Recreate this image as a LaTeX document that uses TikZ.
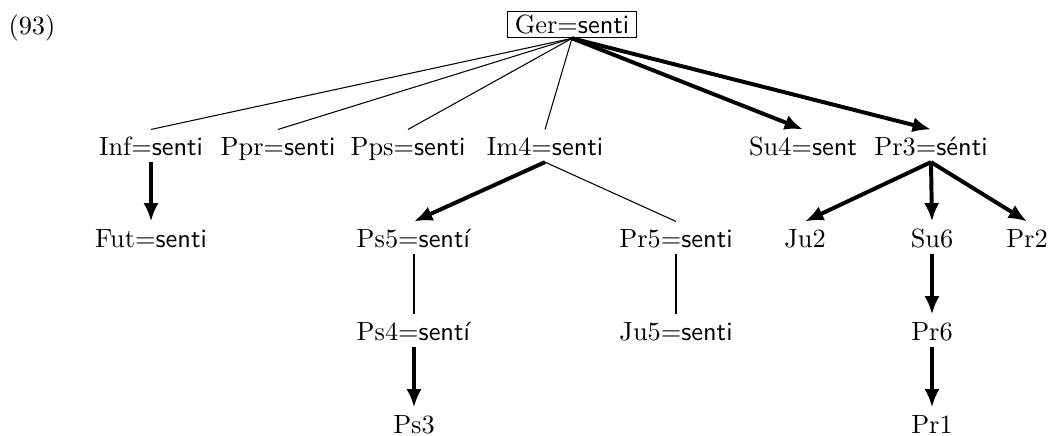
\documentclass[tikz,border=0pt]{standalone}
\usepackage{fontspec}
\usetikzlibrary{arrows.meta}
\begin{document}
\begin{tikzpicture}[x=0.3795pt,y=-0.3795pt,
  lab/.style={inner xsep=1pt, inner ysep=2.5pt, text height=7pt, text depth=0pt, anchor=base},
  boxed/.style={draw, line width=0.4pt, inner xsep=2.6pt, inner ysep=1.4pt},
  plain/.style={line width=0.4pt},
  heavy/.style={line width=1.5pt, -{Latex[length=7pt,width=5.8pt]}}]
\useasboundingbox (0,0) rectangle (1050,435);
\node[anchor=base west, inner sep=0pt] (num) at (8,34) {(93)};
\node[boxed] (ger) at (572,24.5) {Ger=\textsf{senti}};
% row 1
\node[lab] (inf) at (151,155) {Inf=\textsf{senti}};
\node[lab] (ppr) at (278,155) {Ppr=\textsf{senti}};
\node[lab] (pps) at (408,155) {Pps=\textsf{senti}};
\node[lab] (im4) at (545,155) {Im4=\textsf{senti}};
\node[lab] (su4) at (803,155) {Su4=\textsf{sent}};
\node[lab] (pr3) at (931,155) {Pr3=\textsf{sénti}};
% row 2
\node[lab] (fut) at (151,247) {Fut=\textsf{senti}};
\node[lab] (ps5) at (414,247) {Ps5=\textsf{sentí}};
\node[lab] (pr5) at (676,247) {Pr5=\textsf{senti}};
\node[lab] (ju2) at (805,247) {Ju2};
\node[lab] (su6) at (932,247) {Su6};
\node[lab] (pr2) at (1027,247) {Pr2};
% row 3
\node[lab] (ps4) at (414,340) {Ps4=\textsf{sentí}};
\node[lab] (ju5) at (676,340) {Ju5=\textsf{senti}};
\node[lab] (pr6) at (932,340) {Pr6};
% row 4
\node[lab] (ps3) at (414,433) {Ps3};
\node[lab] (pr1) at (932,433) {Pr1};
% edges
\draw[plain] (ger.south) -- (inf.north);
\draw[plain] (ger.south) -- (ppr.north);
\draw[plain] (ger.south) -- (pps.north);
\draw[plain] (ger.south) -- (im4.north);
\draw[heavy] (ger.south) -- (su4.north);
\draw[heavy] (ger.south) -- (pr3.north);
\draw[heavy] (inf.south) -- (fut.north);
\draw[heavy] (im4.south) -- (ps5.north);
\draw[plain] (im4.south) -- (pr5.north);
\draw[plain] (ps5.south) -- (ps4.north);
\draw[heavy] (ps4.south) -- (ps3.north);
\draw[plain] (pr5.south) -- (ju5.north);
\draw[heavy] (pr3.south) -- (ju2.north);
\draw[heavy] (pr3.south) -- (su6.north);
\draw[heavy] (pr3.south) -- (pr2.north);
\draw[heavy] (su6.south) -- (pr6.north);
\draw[heavy] (pr6.south) -- (pr1.north);
\end{tikzpicture}
\end{document}
